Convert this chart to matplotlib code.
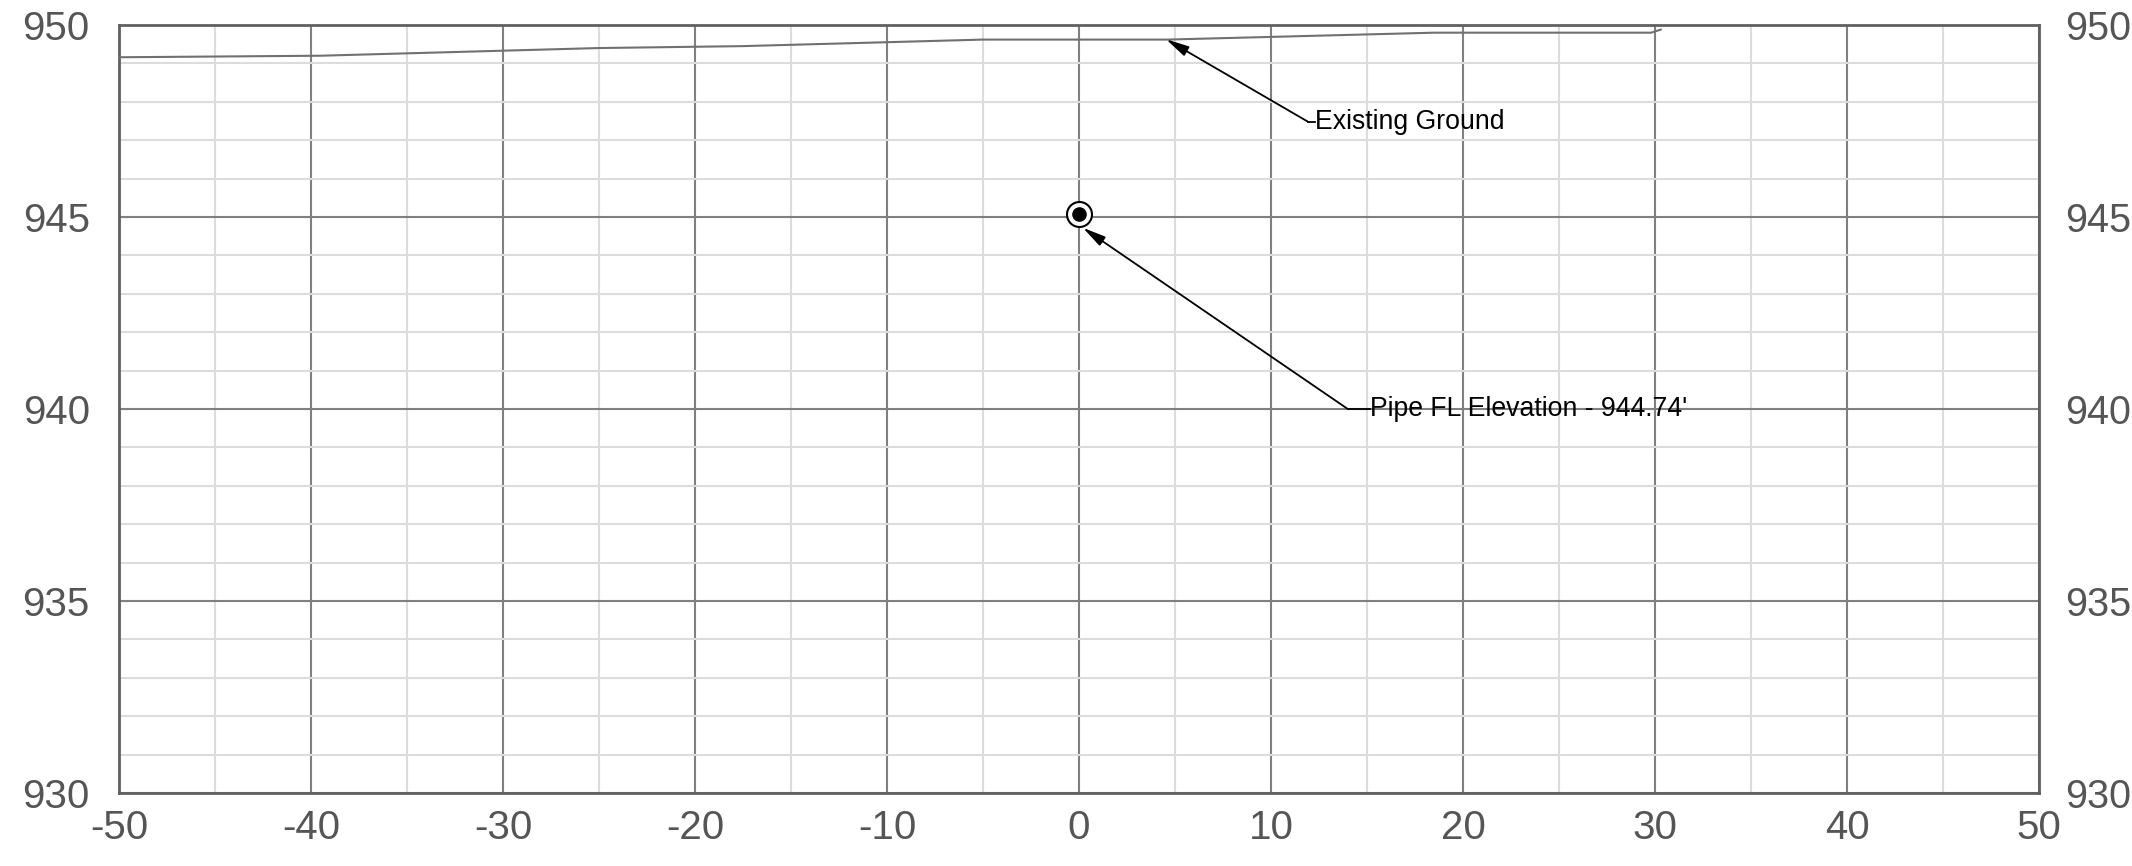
import matplotlib
matplotlib.use("Agg")
import matplotlib.pyplot as plt
from matplotlib.ticker import MultipleLocator

plt.rcParams['font.family'] = ['Liberation Sans', 'DejaVu Sans']
plt.rcParams['axes.unicode_minus'] = False

# Existing ground profile (offset ft, elevation ft)
ground_offset = [-50, -39.5, -25, -17.5, -5, 4.6, 18.5, 29.8, 30.3]
ground_elev = [949.16, 949.20, 949.40, 949.45, 949.62, 949.62, 949.80, 949.80, 949.88]

# Pipe marker
pipe_offset = [0]
pipe_elev = [945.07]
pipe_fl = 944.74

x_ticks = [-50, -40, -30, -20, -10, 0, 10, 20, 30, 40, 50]
y_ticks = [930, 935, 940, 945, 950]

fig = plt.figure(figsize=(21.32, 8.66), dpi=100)
ax = fig.add_axes([119 / 2132, 1 - 793 / 866, 1920 / 2132, 768 / 866])

ax.set_xlim(-50, 50)
ax.set_ylim(930, 950)
ax.set_xticks(x_ticks)
ax.set_yticks(y_ticks)
ax.xaxis.set_minor_locator(MultipleLocator(5))
ax.yaxis.set_minor_locator(MultipleLocator(1))

ax.grid(which='minor', color='#dcdcdc', linewidth=1.5, zorder=0)
ax.grid(which='major', color='#808080', linewidth=1.5, zorder=1)
ax.set_axisbelow(True)

ax.tick_params(which='both', length=0)
ax.tick_params(axis='y', pad=21, labelsize=29, labelcolor='#555555')
ax.tick_params(axis='x', pad=11.5, labelsize=29, labelcolor='#555555')

# right-hand elevation labels
ax2 = ax.twinx()
ax2.set_ylim(930, 950)
ax2.set_yticks(y_ticks)
ax2.tick_params(length=0, pad=19, labelsize=28.5, labelcolor='#555555')
for sp in ax2.spines.values():
    sp.set_visible(False)

for sp in ax.spines.values():
    sp.set_color('#606060')
    sp.set_linewidth(2)

# ground line
ax.plot(ground_offset, ground_elev, color='#707070', linewidth=1.5, zorder=3)

# pipe marker
ax.plot(pipe_offset, pipe_elev, 'o', markersize=18, markerfacecolor='white',
        markeredgecolor='black', markeredgewidth=1.5, zorder=4)
ax.plot(pipe_offset, pipe_elev, 'o', markersize=9.5, color='black', zorder=5)

arrow = dict(arrowstyle='-|>,head_length=0.7,head_width=0.16', color='black',
             lw=1.3, shrinkA=0, shrinkB=0, mutation_scale=20)

# Existing ground label
ax.annotate('', xy=(4.53, 949.63), xytext=(11.93, 947.48), arrowprops=arrow, zorder=6)
ax.plot([11.93, 12.27], [947.48, 947.48], color='black', lw=1.3, zorder=6)
ax.text(12.27, 947.48, 'Existing Ground', fontsize=19.2, ha='left', va='center',
        color='black', zorder=6)

# Pipe label
ax.annotate('', xy=(0.2, 944.72), xytext=(14.0, 940.0), arrowprops=arrow, zorder=6)
ax.plot([14.0, 15.18], [940.0, 940.0], color='black', lw=1.3, zorder=6)
ax.text(15.18, 940.0, "Pipe FL Elevation - %.2f'" % pipe_fl, fontsize=19.2,
        ha='left', va='center', color='black', zorder=6)

fig.savefig('out.png', dpi=100)
